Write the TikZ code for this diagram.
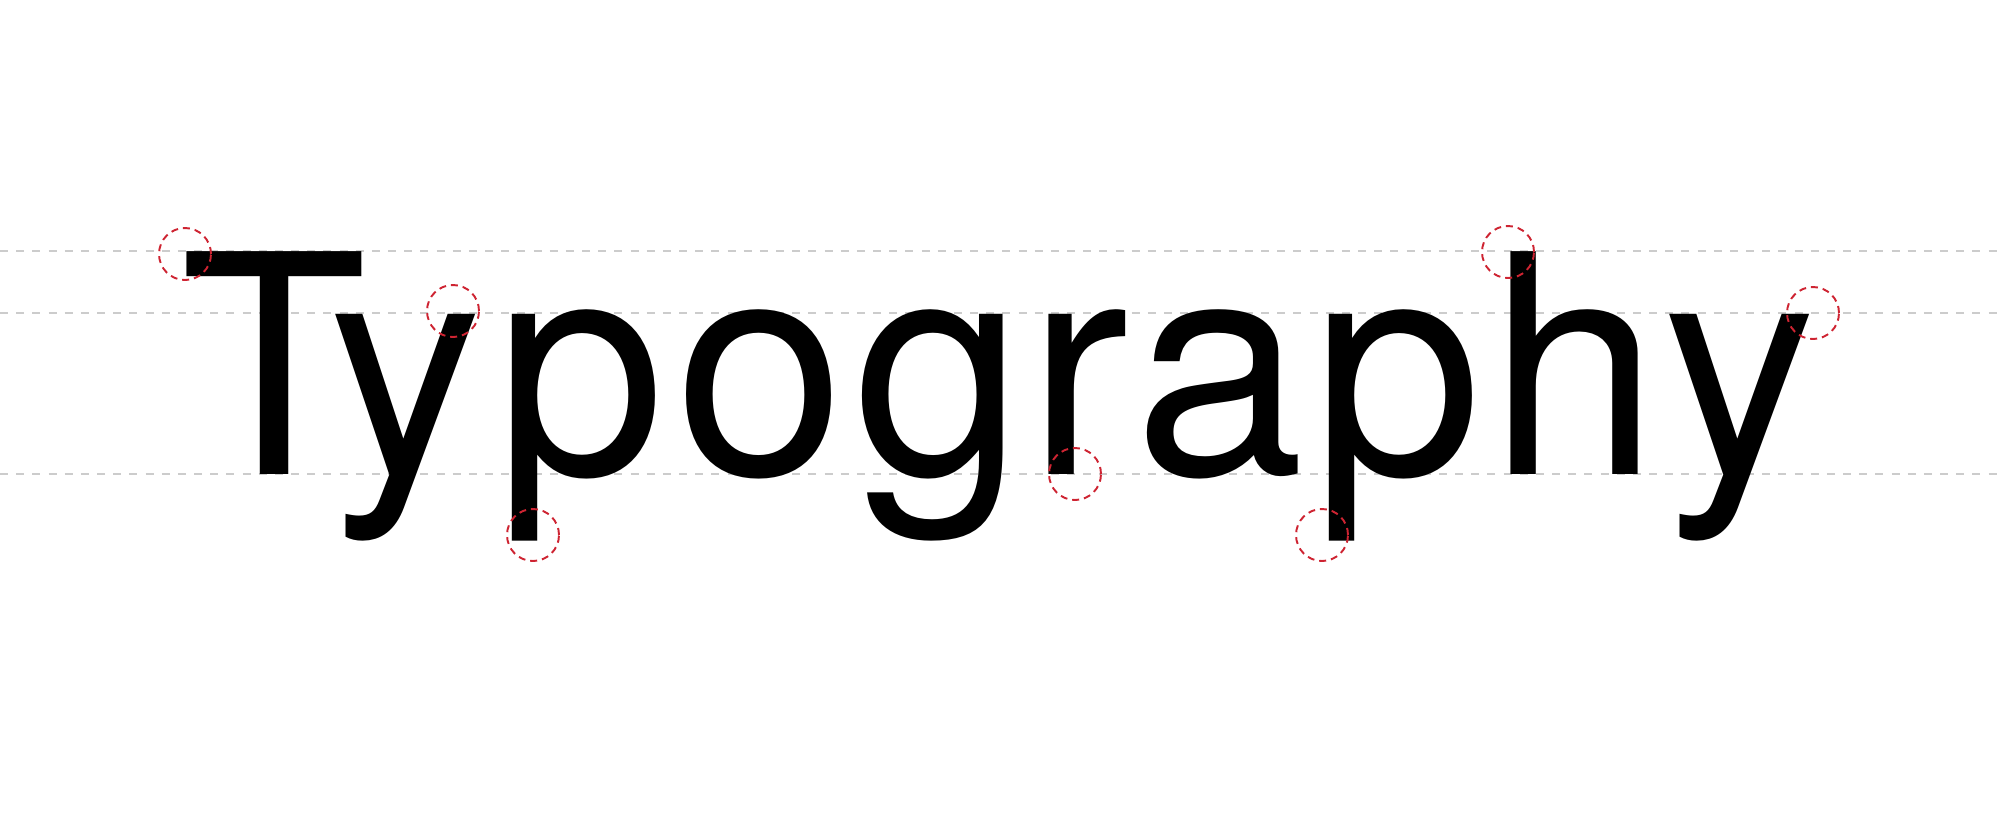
\documentclass[tikz,border=0pt]{standalone}
\usepackage{fontspec}
\setmainfont{TeX Gyre Heros}[Kerning=Off]
\usepackage{tikz}
\usetikzlibrary{positioning}

\definecolor{markred}{RGB}{206,36,50}
\definecolor{guidegray}{RGB}{204,204,204}

\begin{document}
\begin{tikzpicture}[
        guide/.style={draw=guidegray, line width=0.45pt, dash pattern=on 2.3pt off 2.3pt},
        marker/.style={circle, draw=markred, line width=0.55pt, dash pattern=on 2pt off 1.4pt, minimum size=0.52cm, inner sep=0pt},
        word/.style={inner sep=0pt, font=\fontsize{87}{87}\selectfont}
    ]
        \useasboundingbox (0,0) rectangle (20,8.33);

        % guide lines: cap height, x-height, baseline
        \coordinate (capL) at (0,5.82);   \coordinate (capR) at (20,5.82);
        \coordinate (xhL) at (0,5.20);    \coordinate (xhR) at (20,5.20);
        \coordinate (baseL) at (0,3.59);  \coordinate (baseR) at (20,3.59);
        \draw[guide] (capL) -- (capR);
        \draw[guide] (xhL) -- (xhR);
        \draw[guide] (baseL) -- (baseR);

        \node[word, anchor=base west] (typo) at (1.80,3.59)
            {T\kern-0.382cm y\kern0.130cm p\kern0.102cm o\kern0.085cm g\kern0.038cm r\kern0.052cm a\kern0.073cm p\kern0.074cm h\kern0.037cm y};

        % marked corners
        \node[marker] (mT) at (1.85,5.79) {};
        \node[marker] (mY) at (4.53,5.22) {};
        \node[marker] (mP) at (5.33,2.98) {};
        \node[marker] (mR) at (10.75,3.59) {};
        \node[marker] (mP2) at (13.22,2.98) {};
        \node[marker] (mH) at (15.08,5.81) {};
        \node[marker] (mY2) at (18.13,5.20) {};
    \end{tikzpicture}
\end{document}
